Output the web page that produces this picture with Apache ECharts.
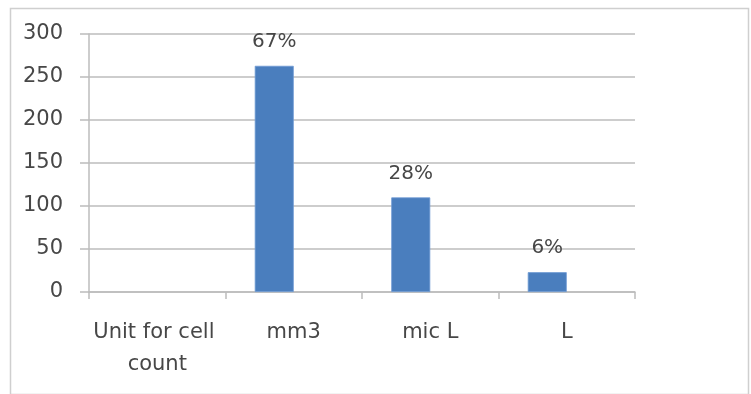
<!DOCTYPE html>
<html>
<head>
<meta charset="utf-8">
<script src="https://cdn.jsdelivr.net/npm/echarts@6/dist/echarts.min.js"></script>
<style>
  html, body { margin: 0; padding: 0; background: #ffffff; }
  #chart { width: 751px; height: 394px; }
</style>
</head>
<body>
<div id="chart"></div>
<script>
// Categories along the horizontal axis
var categories = ['Unit for cell count', 'mm3', 'mic L', 'L'];
// Number of reports using each unit (first category is the group heading, no bar)
var counts = [null, 263, 110, 23];
// Share of reports, printed above each bar
var shares = ['', '67%', '28%', '6%'];
// Second, empty series that shares the category slots
var emptySeries = [null, null, null, null];
// Value axis ticks
var yMin = 0, yMax = 300, yStep = 50;

var textColor = '#474747';
var lineColor = '#bcbcbc';
var fontFamily = '"DejaVu Sans", sans-serif';

var chart = echarts.init(document.getElementById('chart'), null, { renderer: 'canvas' });

chart.setOption({
  animation: false,
  backgroundColor: '#ffffff',
  graphic: [{
    type: 'rect',
    left: 8, top: 6,
    shape: { width: 738, height: 386 },
    style: { fill: 'none', stroke: '#cfcfcf', lineWidth: 1.5 },
    silent: true,
    z: -1
  }],
  grid: { left: 89, right: 116, top: 34, bottom: 102, containLabel: false },
  xAxis: {
    type: 'category',
    data: categories,
    boundaryGap: true,
    axisLine: { show: true, lineStyle: { color: lineColor, width: 1.5 } },
    axisTick: { show: true, length: 7, alignWithLabel: false, lineStyle: { color: lineColor, width: 1.5 } },
    axisLabel: {
      interval: 0,
      color: textColor,
      fontFamily: fontFamily,
      fontSize: 21,
      lineHeight: 32,
      margin: 25,
      width: 132,
      overflow: 'break'
    },
    splitLine: { show: false }
  },
  yAxis: {
    type: 'value',
    min: yMin,
    max: yMax,
    interval: yStep,
    axisLine: { show: true, lineStyle: { color: lineColor, width: 1.5 } },
    axisTick: { show: true, length: 9, lineStyle: { color: lineColor, width: 1.5 } },
    axisLabel: {
      color: textColor,
      fontFamily: fontFamily,
      fontSize: 21,
      margin: 26
    },
    splitLine: { show: true, lineStyle: { color: lineColor, width: 1.5 } }
  },
  series: [{
    name: 'Reports',
    type: 'bar',
    data: counts,
    barWidth: 39,
    barGap: '0%',
    itemStyle: { color: '#4a7ebe', borderColor: '#6f9bd4', borderWidth: 0.8 },
    label: {
      show: true,
      position: 'top',
      distance: 14,
      color: textColor,
      fontFamily: fontFamily,
      fontSize: 20,
      formatter: function (p) { return shares[p.dataIndex]; }
    }
  }, {
    name: 'Other',
    type: 'bar',
    data: emptySeries,
    barWidth: 39,
    barGap: '0%'
  }]
});
</script>
</body>
</html>
